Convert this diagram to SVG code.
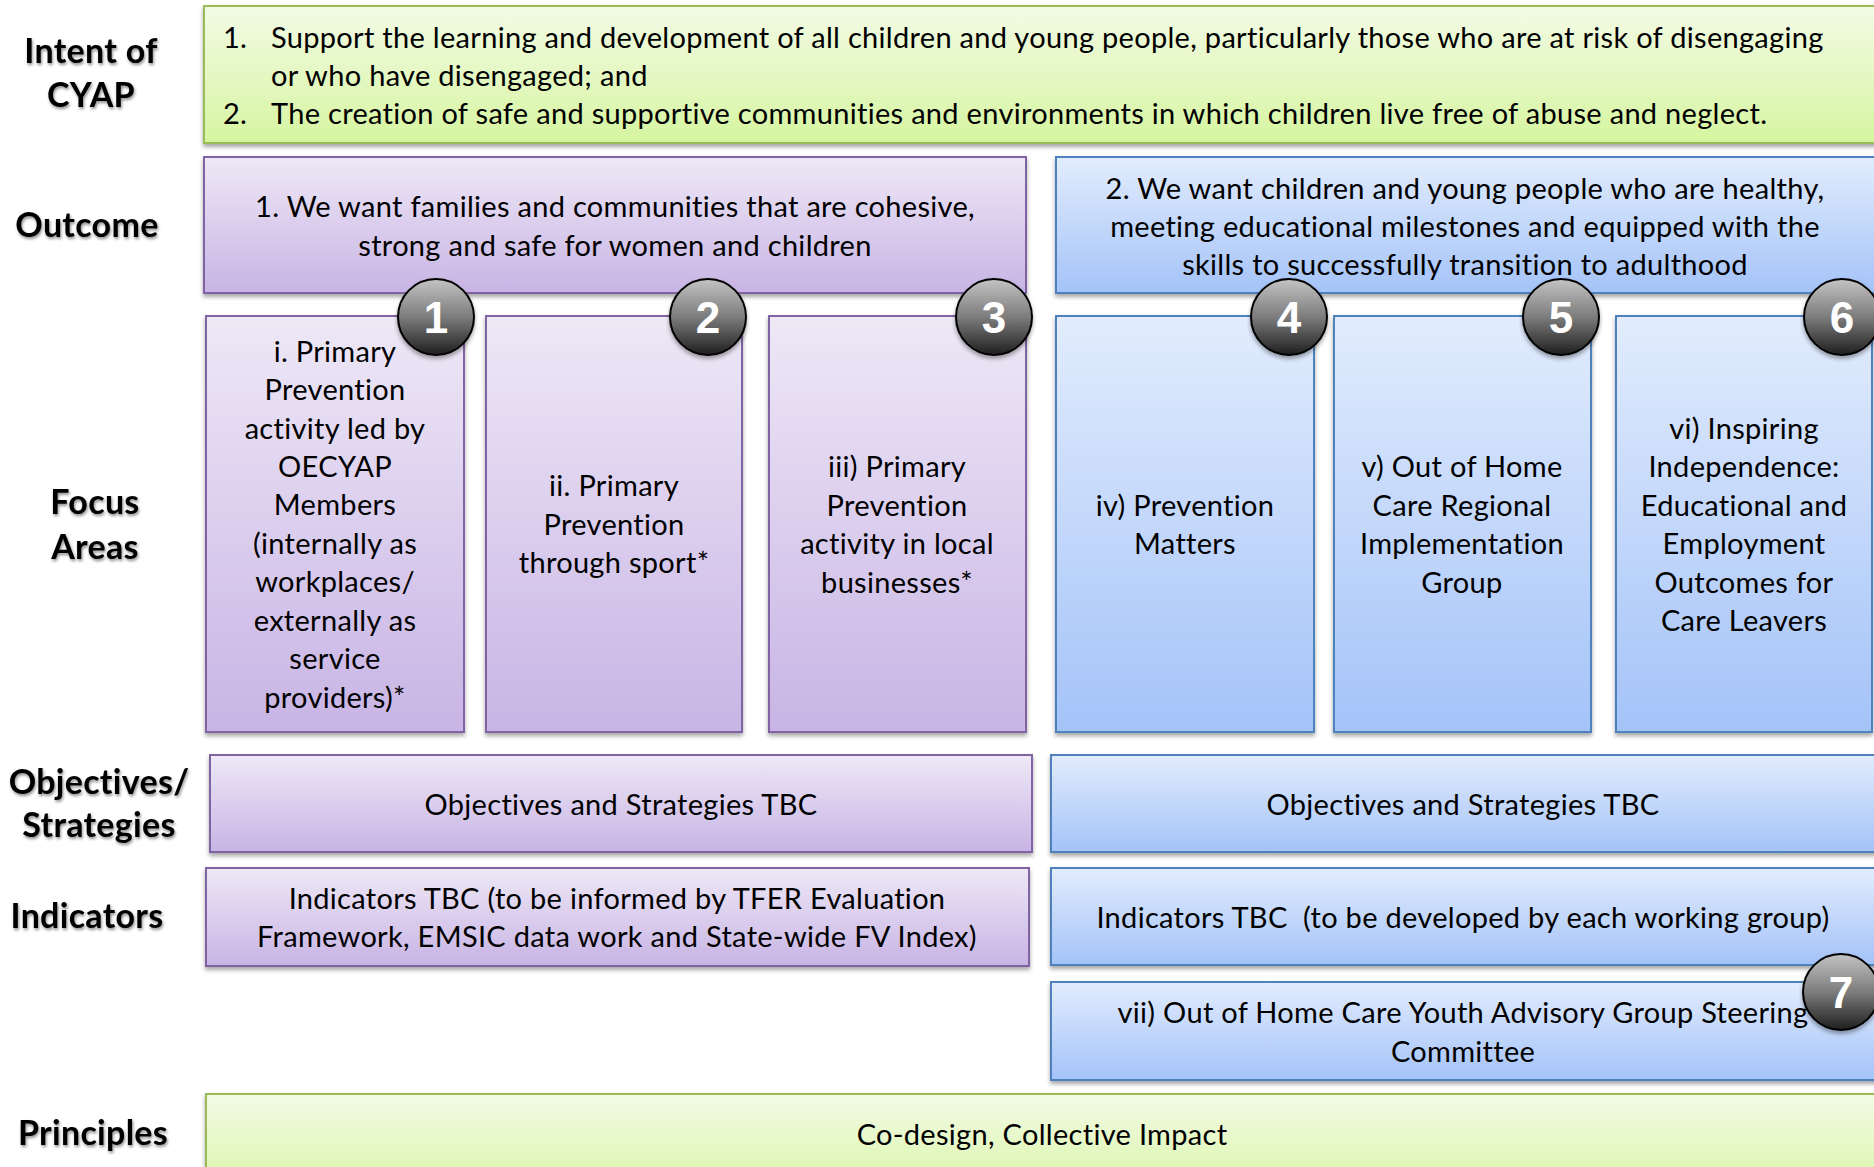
<svg xmlns="http://www.w3.org/2000/svg" width="1874" height="1167" viewBox="0 0 1874 1167">
<defs>
  <linearGradient id="gGreen" x1="0" y1="0" x2="0" y2="1">
    <stop offset="0" stop-color="#F3FBE6"/>
    <stop offset="1" stop-color="#D6F5A0"/>
  </linearGradient>
  <linearGradient id="gPurple" x1="0" y1="0" x2="0" y2="1">
    <stop offset="0" stop-color="#EEE8F6"/>
    <stop offset="1" stop-color="#C8B4E5"/>
  </linearGradient>
  <linearGradient id="gBlue" x1="0" y1="0" x2="0" y2="1">
    <stop offset="0" stop-color="#E2ECFD"/>
    <stop offset="1" stop-color="#A4C3F8"/>
  </linearGradient>
  <linearGradient id="gBadge" x1="0" y1="0" x2="0" y2="1">
    <stop offset="0" stop-color="#C4C4C4"/>
    <stop offset="0.5" stop-color="#7C7C7C"/>
    <stop offset="1" stop-color="#1E1E1E"/>
  </linearGradient>
  <filter id="shadow" x="-5%" y="-10%" width="110%" height="130%">
    <feDropShadow dx="0" dy="3" stdDeviation="2" flood-color="#000" flood-opacity="0.35"/>
  </filter>
  <filter id="tshadow" x="-10%" y="-20%" width="120%" height="150%">
    <feDropShadow dx="1" dy="2" stdDeviation="1.5" flood-color="#000" flood-opacity="0.45"/>
  </filter>
  <style>
    text { font-family: Lato, "Liberation Sans", sans-serif; fill: #000; }
    .body { font-size: 29px; letter-spacing: 0.3px; }
    .c { text-anchor: middle; }
    .label { font-size: 34px; font-weight: bold; letter-spacing: 0.3px; text-anchor: middle; filter: url(#tshadow); }
    .green { fill: url(#gGreen); stroke: #9BBB59; stroke-width: 2; filter: url(#shadow); }
    .purple { fill: url(#gPurple); stroke: #8064A2; stroke-width: 2; filter: url(#shadow); }
    .blue { fill: url(#gBlue); stroke: #4F81BD; stroke-width: 2; filter: url(#shadow); }
    .badge circle { fill: url(#gBadge); stroke: #000; stroke-width: 2; filter: url(#shadow); }
    .badge text { font-family: "Liberation Sans", Arial, sans-serif; font-weight: bold; font-size: 44px; letter-spacing: 0; fill: #fff; text-anchor: middle; }
  </style>
</defs>
<rect width="1874" height="1167" fill="#fff"/>

<g id="labels">
  <text class="label" x="91" y="63">Intent of</text>
  <text class="label" x="91" y="107">CYAP</text>
  <text class="label" x="87" y="237">Outcome</text>
  <text class="label" x="95" y="514">Focus</text>
  <text class="label" x="95" y="559">Areas</text>
  <text class="label" x="99" y="794">Objectives/</text>
  <text class="label" x="99" y="837">Strategies</text>
  <text class="label" x="87" y="928">Indicators</text>
  <text class="label" x="93" y="1145">Principles</text>
</g>

<g id="connectors"></g>

<g id="intent">
  <rect class="green" x="204" y="6" width="1700" height="137"/>
  <text class="body" x="223" y="48">1.</text>
  <text class="body" x="271" y="48">Support the learning and development of all children and young people, particularly those who are at risk of disengaging</text>
  <text class="body" x="271" y="86">or who have disengaged; and</text>
  <text class="body" x="223" y="124">2.</text>
  <text class="body" x="271" y="124">The creation of safe and supportive communities and environments in which children live free of abuse and neglect.</text>
</g>

<g id="outcome1">
  <rect class="purple" x="204" y="157" width="822" height="136"/>
  <text class="body c" x="615" y="217">1. We want families and communities that are cohesive,</text>
  <text class="body c" x="615" y="256">strong and safe for women and children</text>
</g>

<g id="outcome2">
  <rect class="blue" x="1056" y="157" width="840" height="136"/>
  <text class="body c" x="1465" y="199">2. We want children and young people who are healthy,</text>
  <text class="body c" x="1465" y="237">meeting educational milestones and equipped with the</text>
  <text class="body c" x="1465" y="275">skills to successfully transition to adulthood</text>
</g>

<g id="focus1">
  <rect class="purple" x="206" y="316" width="258" height="416"/>
  <text class="body c" x="335" y="362">i. Primary</text>
  <text class="body c" x="335" y="400">Prevention</text>
  <text class="body c" x="335" y="439">activity led by</text>
  <text class="body c" x="335" y="477">OECYAP</text>
  <text class="body c" x="335" y="515">Members</text>
  <text class="body c" x="335" y="554">(internally as</text>
  <text class="body c" x="335" y="592">workplaces/</text>
  <text class="body c" x="335" y="631">externally as</text>
  <text class="body c" x="335" y="669">service</text>
  <text class="body c" x="335" y="708">providers)*</text>
</g>

<g id="focus2">
  <rect class="purple" x="486" y="316" width="256" height="416"/>
  <text class="body c" x="614" y="496">ii. Primary</text>
  <text class="body c" x="614" y="535">Prevention</text>
  <text class="body c" x="614" y="573">through sport*</text>
</g>

<g id="focus3">
  <rect class="purple" x="769" y="316" width="257" height="416"/>
  <text class="body c" x="897" y="477">iii) Primary</text>
  <text class="body c" x="897" y="516">Prevention</text>
  <text class="body c" x="897" y="554">activity in local</text>
  <text class="body c" x="897" y="593">businesses*</text>
</g>

<g id="focus4">
  <rect class="blue" x="1056" y="316" width="258" height="416"/>
  <text class="body c" x="1185" y="516">iv) Prevention</text>
  <text class="body c" x="1185" y="554">Matters</text>
</g>

<g id="focus5">
  <rect class="blue" x="1334" y="316" width="257" height="416"/>
  <text class="body c" x="1462" y="477">v) Out of Home</text>
  <text class="body c" x="1462" y="516">Care Regional</text>
  <text class="body c" x="1462" y="554">Implementation</text>
  <text class="body c" x="1462" y="593">Group</text>
</g>

<g id="focus6">
  <rect class="blue" x="1616" y="316" width="256" height="416"/>
  <text class="body c" x="1744" y="439">vi) Inspiring</text>
  <text class="body c" x="1744" y="477">Independence:</text>
  <text class="body c" x="1744" y="516">Educational and</text>
  <text class="body c" x="1744" y="554">Employment</text>
  <text class="body c" x="1744" y="593">Outcomes for</text>
  <text class="body c" x="1744" y="631">Care Leavers</text>
</g>

<g id="objectives1">
  <rect class="purple" x="210" y="755" width="822" height="97"/>
  <text class="body c" x="621" y="815">Objectives and Strategies TBC</text>
</g>

<g id="objectives2">
  <rect class="blue" x="1051" y="755" width="850" height="97"/>
  <text class="body c" x="1463" y="815">Objectives and Strategies TBC</text>
</g>

<g id="indicators1">
  <rect class="purple" x="206" y="868" width="823" height="98"/>
  <text class="body c" x="617" y="909">Indicators TBC (to be informed by TFER Evaluation</text>
  <text class="body c" x="617" y="947">Framework, EMSIC data work and State-wide FV Index)</text>
</g>

<g id="indicators2">
  <rect class="blue" x="1051" y="868" width="850" height="97"/>
  <text class="body c" x="1463" y="928" xml:space="preserve">Indicators TBC  (to be developed by each working group)</text>
</g>

<g id="steering">
  <rect class="blue" x="1051" y="982" width="850" height="98"/>
  <text class="body c" x="1463" y="1023">vii) Out of Home Care Youth Advisory Group Steering</text>
  <text class="body c" x="1463" y="1062">Committee</text>
</g>

<g id="principles">
  <rect class="green" x="206" y="1094" width="1700" height="110"/>
  <text class="body c" x="1042" y="1145">Co-design, Collective Impact</text>
</g>

<g id="badge1" class="badge"><circle cx="436" cy="317" r="38"/><text x="436" y="333">1</text></g>
<g id="badge2" class="badge"><circle cx="708" cy="317" r="38"/><text x="708" y="333">2</text></g>
<g id="badge3" class="badge"><circle cx="994" cy="317" r="38"/><text x="994" y="333">3</text></g>
<g id="badge4" class="badge"><circle cx="1289" cy="317" r="38"/><text x="1289" y="333">4</text></g>
<g id="badge5" class="badge"><circle cx="1561" cy="317" r="38"/><text x="1561" y="333">5</text></g>
<g id="badge6" class="badge"><circle cx="1842" cy="317" r="38"/><text x="1842" y="333">6</text></g>
<g id="badge7" class="badge"><circle cx="1841" cy="992" r="38"/><text x="1841" y="1008">7</text></g>
</svg>
